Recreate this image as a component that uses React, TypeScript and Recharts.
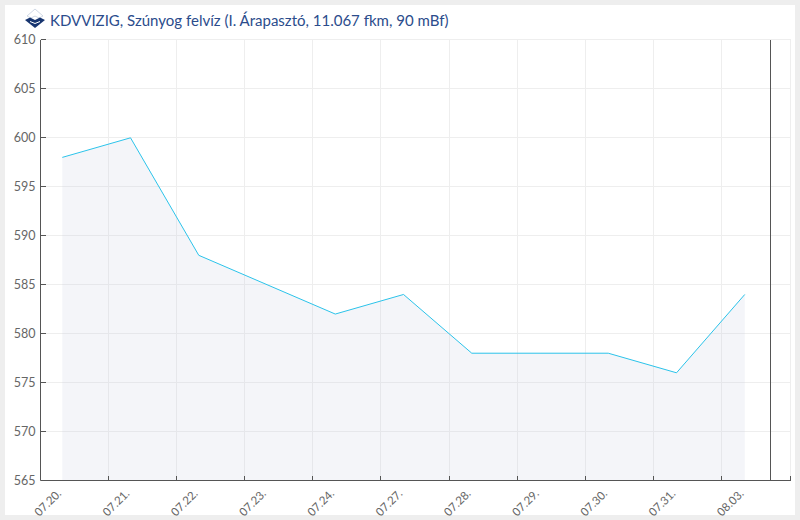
import React from "react";
import { Area, CartesianGrid, ComposedChart, ReferenceLine, XAxis, YAxis } from "recharts";

const dates = ["07.20.", "07.21.", "07.22.", "07.23.", "07.24.", "07.27.", "07.28.", "07.29.", "07.30.", "07.31.", "08.03."];
const levels = [598, 600, 588, 585, 582, 584, 578, 578, 578, 576, 584];
const positions = [0, 1, 2, 3, 4, 5, 6, 7, 8, 9, 10];
const gridPositions = [0.677, 1.673, 2.67, 3.666, 4.662, 5.673, 6.67, 7.666, 8.662, 9.659, 10.67];
const yTicks = [565, 570, 575, 580, 585, 590, 595, 600, 605, 610];
const nowPosition = 10.376;

const data = positions.map((x, i) => ({ x, level: levels[i] }));
const xDomain = [-0.319, 10.67];
const axisColor = "#555555";
const tickFont = { fontSize: 12.5, fill: "#666666", fontFamily: "Lato" };

function Logo() {
  return (
    <svg width={22} height={22} viewBox="0 0 22 22" style={{ position: "absolute", left: 24, top: 8 }}>
      <path d="M11 1 L19 8 L15 10 L11 8 L7 10 L3 8 Z" fill="#ffffff" stroke="#c4cedd" strokeWidth={0.8} />
      <path d="M1 12 L6 9.5 L11 12 L16 9.5 L21 12 L11 20 Z" fill="#17356f" />
      <path d="M6 13.5 L11 15.5 L16 13.5" fill="none" stroke="#ffffff" strokeWidth={1} />
    </svg>
  );
}

// ticks of the value axis point into the plot
function ValueTick({ x, y, payload }: any) {
  return (
    <g>
      <line x1={x} x2={x + 5} y1={y} y2={y} stroke={axisColor} shapeRendering="crispEdges" />
      <text x={x - 5} y={y} dy={4} textAnchor="end" {...tickFont}>{payload.value}</text>
    </g>
  );
}

function GridTick({ x, y }: any) {
  return <line x1={x} x2={x} y1={y} y2={y - 5} stroke={axisColor} shapeRendering="crispEdges" />;
}

export default function App() {
  return (
    <div style={{ position: "absolute", left: 0, top: 0, width: 800, height: 520, background: "#eeeeee" }}>
      <div style={{ position: "absolute", left: 5, top: 5, width: 790, height: 510, background: "#ffffff" }} />
      <Logo />
      <div style={{ position: "absolute", left: 50, top: 10, fontFamily: "Lato", fontSize: 15.03, lineHeight: "20px", color: "#2b4c8c", whiteSpace: "nowrap" }}>
        KDVVIZIG, Szúnyog felvíz (I. Árapasztó, 11.067 fkm, 90 mBf)
      </div>
      <div style={{ position: "absolute", left: 0, top: 0 }}>
        <ComposedChart width={800} height={520} data={data} margin={{ top: 39.9, right: 9.5, bottom: 0, left: 0 }}>
          <CartesianGrid xAxisId="grid" stroke="#eeeeee" strokeWidth={1} shapeRendering="crispEdges" />
          <XAxis
            xAxisId="grid"
            dataKey="x"
            type="number"
            domain={xDomain}
            ticks={gridPositions}
            allowDataOverflow
            interval={0}
            height={1}
            stroke={axisColor}
            tickLine={false}
            tickSize={0}
            tickMargin={0}
            tick={<GridTick />}
          />
          <XAxis
            xAxisId="labels"
            dataKey="x"
            type="number"
            domain={xDomain}
            ticks={positions}
            allowDataOverflow
            interval={0}
            height={38.5}
            axisLine={false}
            tickLine={false}
            tickMargin={1}
            angle={-45}
            textAnchor="end"
            tick={{ ...tickFont, fontSize: 11.5, dx: -6 }}
            tickFormatter={(v: number) => dates[v]}
          />
          <YAxis
            dataKey="level"
            domain={[565, 610]}
            ticks={yTicks}
            interval={0}
            width={40.5}
            stroke={axisColor}
            tickLine={false}
            tickSize={0}
            tickMargin={0}
            tick={<ValueTick />}
          />
          <Area
            xAxisId="grid"
            dataKey="level"
            type="linear"
            stroke="none"
            fill="none"
            dot={false}
            activeDot={false}
            isAnimationActive={false}
          />
          <Area
            xAxisId="labels"
            dataKey="level"
            type="linear"
            stroke="#2bc3ea"
            strokeWidth={1}
            fill="#ccd3e4"
            fillOpacity={0.22}
            baseValue={565}
            dot={false}
            activeDot={false}
            isAnimationActive={false}
          />
          <ReferenceLine xAxisId="labels" x={nowPosition} stroke={axisColor} strokeWidth={1} shapeRendering="crispEdges" />
        </ComposedChart>
      </div>
    </div>
  );
}
